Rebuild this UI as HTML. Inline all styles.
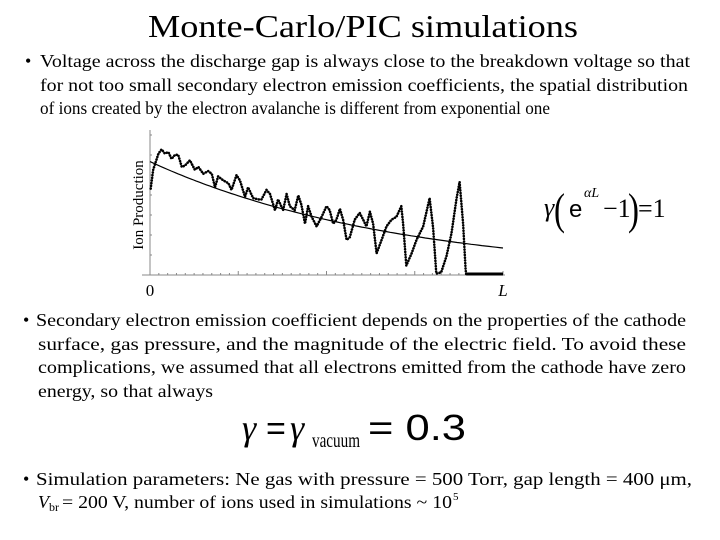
<!DOCTYPE html>
<html><head><meta charset="utf-8"><style>
html,body{margin:0;padding:0;background:#fff;}
svg{display:block;font-family:"Liberation Serif",serif;}
</style></head><body>
<svg width="720" height="540" viewBox="0 0 720 540" xmlns="http://www.w3.org/2000/svg">
<text x="148" y="37" font-size="32" textLength="430" lengthAdjust="spacingAndGlyphs">Monte-Carlo/PIC simulations</text>

<g font-size="18">
<text x="25" y="67">•</text>
<text x="40" y="67" textLength="650" lengthAdjust="spacingAndGlyphs">Voltage across the discharge gap is always close to the breakdown voltage so that</text>
<text x="40" y="91" textLength="648" lengthAdjust="spacingAndGlyphs">for not too small secondary electron emission coefficients, the spatial distribution</text>
<text x="40" y="114" textLength="510" lengthAdjust="spacingAndGlyphs">of ions created by the electron avalanche is different from exponential one</text>
</g>

<g id="chart"></g>

<g>
<text x="544" y="216" font-size="26" font-style="italic">γ</text>
<text x="554" y="224" font-size="44" transform="scale(0.75,1)" transform-origin="554 216">(</text>
<text x="569" y="217" font-size="24" font-family="Liberation Sans, sans-serif">e</text>
<text x="584" y="197" font-size="14" font-style="italic">αL</text>
<text x="603" y="217" font-size="26">−1</text>
<text x="628" y="224" font-size="44" transform="scale(0.75,1)" transform-origin="628 216">)</text>
<text x="638" y="217" font-size="26">=1</text>
</g>

<g font-size="18">
<text x="23" y="326">•</text>
<text x="36" y="326" textLength="650" lengthAdjust="spacingAndGlyphs">Secondary electron emission coefficient depends on the properties of the cathode</text>
<text x="38" y="350" textLength="648" lengthAdjust="spacingAndGlyphs">surface, gas pressure, and the magnitude of the electric field. To avoid these</text>
<text x="38" y="373" textLength="648" lengthAdjust="spacingAndGlyphs">complications, we assumed that all electrons emitted from the cathode have zero</text>
<text x="38" y="397" textLength="175" lengthAdjust="spacingAndGlyphs">energy, so that always</text>
</g>

<g>
<text x="242" y="440" font-size="36" font-style="italic">γ</text>
<text x="266" y="440" font-size="34" font-family="Liberation Sans, sans-serif">=</text>
<text x="290" y="440" font-size="36" font-style="italic">γ</text>
<text x="312" y="447" font-size="20" textLength="48" lengthAdjust="spacingAndGlyphs">vacuum</text>
<text x="368" y="440" font-size="36" font-family="Liberation Sans, sans-serif" textLength="98" lengthAdjust="spacingAndGlyphs">= 0.3</text>
</g>

<g font-size="18">
<text x="23" y="485">•</text>
<text x="36" y="485" textLength="656" lengthAdjust="spacingAndGlyphs">Simulation parameters: Ne gas with pressure = 500 Torr, gap length = 400 μm,</text>
<text x="38" y="508" font-style="italic">V</text>
<text x="49" y="511" font-size="12">br</text>
<text x="62" y="508" textLength="390" lengthAdjust="spacingAndGlyphs">= 200 V, number of ions used in simulations ~ 10</text>
<text x="453" y="500" font-size="11">5</text>
</g>
</svg>
<script>
// simulation data (position as fraction of gap L, ion production arbitrary units)
const simX = [0.002,0.009,0.024,0.033,0.042,0.052,0.061,0.071,0.080,0.090,0.099,0.113,0.127,0.137,0.151,0.165,0.175,0.184,0.193,0.208,0.222,0.231,0.245,0.255,0.269,0.278,0.292,0.307,0.316,0.330,0.340,0.354,0.363,0.377,0.387,0.396,0.410,0.420,0.429,0.439,0.448,0.458,0.472,0.486,0.500,0.509,0.519,0.528,0.538,0.547,0.557,0.566,0.580,0.594,0.604,0.613,0.623,0.632,0.642,0.656,0.670,0.684,0.698,0.712,0.717,0.726,0.741,0.755,0.774,0.792,0.802,0.811,0.825,0.840,0.854,0.868,0.877,0.887,0.894,0.896];
const simY = [64,78,90,93,90,91,86,89,89,80,81,85,78,80,75,77,75,65,73,70,68,63,74,70,58,65,57,56,56,63,60,48,56,48,60,51,48,59,52,38,51,43,36,43,51,48,38,41,49,41,26,28,41,46,41,36,47,38,16,26,36,41,43,51,38,7,16,26,36,57,35,1,2,14,31,56,69,38,4,0];
// zero-production tail after last point
const tailStart = 0.896, tailEnd = 1.0, tailValue = 0;
// exponential reference curve parameters
const expA = 84, expK = 1.435;
const xTickLabels = ["0","L"];

const NS="http://www.w3.org/2000/svg";
const g=document.getElementById('chart');
const X0=150,X1=503,Y0=275,YT=140;
const sx=v=>X0+v*(X1-X0);
const sy=v=>Y0-v/100*(Y0-YT);
function mk(t,a){const e=document.createElementNS(NS,t);for(const k in a)e.setAttribute(k,a[k]);g.appendChild(e);return e;}
const yax=mk('line',{x1:X0,y1:130,x2:X0,y2:Y0,stroke:'#888','stroke-width':1});


const xax=mk('line',{x1:142,y1:Y0,x2:505,y2:Y0,stroke:'#888','stroke-width':1});


for(let i=0;i<=40;i++){
  const major=i%10===0;
  const t=mk('line',{x1:sx(i/40),y1:Y0,x2:sx(i/40),y2:Y0-(major?4:2),stroke:'#888','stroke-width':1});
  
  
}
for(let i=0;i<=7;i++){
  const t=mk('line',{x1:X0,y1:Y0-i*20,x2:X0+2,y2:Y0-i*20,stroke:'#888','stroke-width':1});
  
  
}
xTickLabels.forEach((s,i)=>{
  const t=mk('text',{x:sx(i),y:296,'font-size':17,'text-anchor':'middle','font-style':i?'italic':'normal'});
  t.textContent=s;
  
  
});
const yl=mk('text',{x:0,y:0,'font-size':15,'text-anchor':'middle',transform:'translate(143,205) rotate(-90)'});
yl.textContent='Ion Production';


// exponential fit
let d='';
for(let i=0;i<=100;i++){const v=i/100;d+=(i?'L':'M')+sx(v).toFixed(1)+' '+sy(expA*Math.exp(-expK*v)).toFixed(1);}
const ep=mk('path',{d:d,fill:'none',stroke:'#000','stroke-width':1.2});


// simulation dotted series
let d2='';
simX.forEach((v,i)=>{d2+=(i?'L':'M')+sx(v).toFixed(1)+' '+sy(simY[i]).toFixed(1);});
const sp=mk('path',{d:d2,fill:'none',stroke:'#000','stroke-width':2.6,'stroke-dasharray':'0.1 2.6','stroke-linecap':'round','stroke-linejoin':'round'});


const tl=mk('line',{x1:sx(tailStart),y1:sy(tailValue)-1,x2:sx(tailEnd),y2:sy(tailValue)-1,stroke:'#000','stroke-width':3});


</script>
</body></html>
